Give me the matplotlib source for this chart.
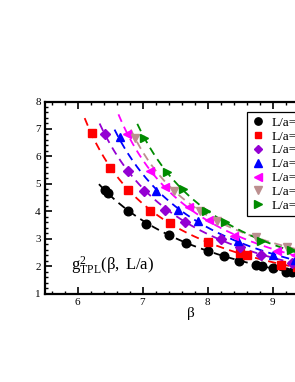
import numpy as np
import matplotlib
matplotlib.use("Agg")
import matplotlib.pyplot as plt
from matplotlib.ticker import MultipleLocator

plt.rcParams['font.family'] = ['Liberation Serif', 'DejaVu Serif']
plt.rcParams['mathtext.fontset'] = 'custom'
plt.rcParams['mathtext.rm'] = 'Liberation Serif'
plt.rcParams['mathtext.it'] = 'Liberation Serif:italic'

labels = ["L/a=4", "L/a=6", "L/a=8", "L/a=10", "L/a=12", "L/a=14", "L/a=16"]
colors = ["#000000", "#ff0000", "#9400d3", "#0000ff", "#ff00ff", "#bc8f8f", "#008b00"]
markers = ["o", "s", "D", "^", "<", "v", ">"]
msizes = [6.2, 5.8, 5.2, 6.2, 6.2, 6.2, 6.2]

beta_4 = [6.43, 6.47, 6.77, 7.06, 7.40, 7.67, 8.00, 8.25, 8.49, 8.75, 8.84, 9.01, 9.20, 9.30]
g2_4 = [4.77, 4.66, 4.02, 3.54, 3.15, 2.84, 2.56, 2.38, 2.20, 2.04, 1.99, 1.92, 1.80, 1.78]
beta_6 = [6.22, 6.50, 6.78, 7.12, 7.42, 8.00, 8.50, 8.61, 9.13, 9.38]
g2_6 = [6.84, 5.58, 4.79, 4.02, 3.58, 2.87, 2.46, 2.39, 2.05, 1.96]
beta_8 = [6.43, 6.78, 7.03, 7.35, 7.65, 8.20, 8.50, 8.83, 9.30]
g2_8 = [6.82, 5.48, 4.75, 4.05, 3.61, 2.98, 2.70, 2.41, 2.12]
beta_10 = [6.65, 7.21, 7.54, 7.86, 8.47, 9.01, 9.35]
g2_10 = [6.72, 4.72, 4.04, 3.66, 2.92, 2.41, 2.22]
beta_12 = [6.76, 7.11, 7.35, 7.72, 8.02, 8.40, 9.07, 9.35]
g2_12 = [6.82, 5.48, 4.87, 4.16, 3.68, 3.10, 2.56, 2.40]
beta_14 = [6.89, 7.48, 7.88, 8.15, 8.74, 9.23]
g2_14 = [6.68, 4.72, 4.02, 3.64, 3.07, 2.69]
beta_16 = [7.02, 7.38, 7.63, 7.97, 8.27, 8.83, 9.28]
g2_16 = [6.66, 5.42, 4.82, 4.02, 3.62, 2.93, 2.57]

betas = [beta_4, beta_6, beta_8, beta_10, beta_12, beta_14, beta_16]
g2s = [g2_4, g2_6, g2_8, g2_10, g2_12, g2_14, g2_16]
fit_start = [6.33, 6.11, 6.34, 6.57, 6.63, 6.82, 6.92]

W, H = 295, 382
fig = plt.figure(figsize=(W / 100, H / 100), dpi=100)
ax_l, ax_top, ax_bot = 45, 101.5, 293.5
ax = fig.add_axes([ax_l / W, 1 - ax_bot / H, 292.5 / W, (ax_bot - ax_top) / H])

for b, g, c, m, lab, s, ms in zip(betas, g2s, colors, markers, labels, fit_start, msizes):
    b = np.array(b); g = np.array(g)
    coef = np.polyfit(b, 1.0 / g, 2)
    bb = np.linspace(s, 10.0, 200)
    ax.plot(bb, 1.0 / np.polyval(coef, bb), color=c, ls=(0, (4.5, 3)), lw=1.3, zorder=2)
    ax.plot(b, g, ls='none', marker=m, color=c, ms=ms, mec=c, label=lab, zorder=3)

ax.set_xlim(5.5, 10.0)
ax.set_ylim(1, 8)
ax.xaxis.set_major_locator(MultipleLocator(1))
ax.xaxis.set_minor_locator(MultipleLocator(0.2))
ax.yaxis.set_major_locator(MultipleLocator(1))
ax.yaxis.set_minor_locator(MultipleLocator(0.2))
ax.tick_params(which='both', direction='in', top=True, right=True, labelsize=8, pad=3)
ax.tick_params(which='major', length=5, width=1.2)
ax.tick_params(which='minor', length=2.5, width=1.0)
for sp in ax.spines.values():
    sp.set_linewidth(1.6)

ax.set_xlabel('β', fontsize=11, labelpad=0)
ax.text(5.9, 2.0, r'$\mathrm{g}^2_{\mathrm{TPL}}\mathrm{(β,\ L/a)}$', fontsize=12,
        ha='left', va='center')

leg = ax.legend(loc='upper left', bbox_to_anchor=(247 / W, 1 - 112 / H),
                bbox_transform=fig.transFigure, fontsize=9.5, frameon=True,
                fancybox=False, edgecolor='black', framealpha=1,
                handlelength=0.9, handletextpad=0.6, labelspacing=0.12,
                borderpad=0.35, borderaxespad=0, markerscale=0.85)
leg.get_frame().set_linewidth(0.9)

fig.savefig("out.png", dpi=100)
